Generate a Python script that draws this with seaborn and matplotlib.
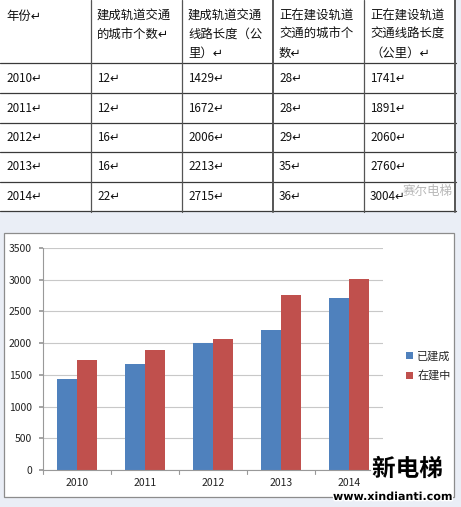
import matplotlib
matplotlib.use("Agg")
import matplotlib.pyplot as plt
import seaborn as sns
import pandas as pd
from matplotlib.lines import Line2D
from matplotlib.patches import Rectangle
import matplotlib.patheffects as pe

years = ["2010", "2011", "2012", "2013", "2014"]
built_cities = [12, 12, 16, 16, 22]
built_km = [1429, 1672, 2006, 2213, 2715]
building_cities = [28, 28, 29, 35, 36]
building_km = [1741, 1891, 2060, 2760, 3004]
headers = ["年份", "建成轨道交通\n的城市个数", "建成轨道交通\n线路长度（公\n里）",
           "正在建设轨道\n交通的城市个\n数", "正在建设轨道\n交通线路长度\n（公里）"]
series_names = ["已建成", "在建中"]
yticks = [0, 500, 1000, 1500, 2000, 2500, 3000, 3500]

sns.set_theme(style="white")
plt.rcParams["font.family"] = ["Noto Sans CJK SC", "DejaVu Sans"]

W, H = 461, 507
fig = plt.figure(figsize=(W / 100, H / 100), dpi=100, facecolor="#eaeef6")

def fx(x):
    return x / W

def fy(y):
    return 1 - y / H

# ---- table ----
fig.add_artist(Rectangle((fx(0), fy(212)), fx(456), 212 / H, transform=fig.transFigure,
                         facecolor="white", edgecolor="none", zorder=0))
col_x = [0, 91, 182, 273, 364, 455]
row_y = [0, 63, 93, 123, 152, 182, 211]
for y in row_y[1:]:
    fig.add_artist(Line2D([fx(0), fx(456)], [fy(y), fy(y)], transform=fig.transFigure,
                          color="#3a3a3a", lw=0.9))
for i, x in enumerate(col_x[1:]):
    fig.add_artist(Line2D([fx(x), fx(x)], [fy(0), fy(212)], transform=fig.transFigure,
                          color="#555555", lw=1.4 if i in (2, 4) else 0.9))

hfs = 8.9
tfs = 8.4
for j, h in enumerate(headers):
    lines = h.split("\n")
    for k, ln in enumerate(lines):
        txt = ln + ("↵" if k == len(lines) - 1 else "")
        fig.text(fx(col_x[j] + 6), fy(16 + k * 18.5), txt, fontsize=hfs, color="#111111",
                 va="center", ha="left")

rows = list(zip(years, built_cities, built_km, building_cities, building_km))
for r, row in enumerate(rows):
    yc = (row_y[r + 1] + row_y[r + 2]) / 2
    for j, v in enumerate(row):
        fig.text(fx(col_x[j] + 6), fy(yc), f"{v}↵", fontsize=tfs, color="#111111",
                 va="center", ha="left")

fig.text(fx(403), fy(191), "赛尔电梯", fontsize=9, color="#b8b8b8", va="center", ha="left")

# ---- chart box ----
fig.add_artist(Rectangle((fx(4), fy(497)), fx(450), (497 - 233) / H, transform=fig.transFigure,
                         facecolor="white", edgecolor="#8c8c8c", lw=0.9, zorder=0))

df = pd.DataFrame({
    "year": years * 2,
    "value": built_km + building_km,
    "series": [series_names[0]] * len(years) + [series_names[1]] * len(years),
})

ax = fig.add_axes([fx(43), fy(470), fx(383 - 43), (470 - 248) / H])
ax.set_facecolor("none")
sns.barplot(data=df, x="year", y="value", hue="series", ax=ax,
            palette=["#4F81BD", "#C0504D"], width=0.58, gap=0, legend=True,
            saturation=1, edgecolor="none")
ax.set_xlim(-0.5, 4.5)
ax.set_ylim(0, 3500)
ax.set_yticks(yticks)
ax.set_yticklabels([str(t) for t in yticks], fontsize=7.5, color="#222222")
ax.set_xticks(range(len(years)))
ax.set_xticklabels(years, fontsize=7.5, color="#222222")
ax.yaxis.grid(True, color="#c8c8c8", lw=0.8)
ax.set_axisbelow(True)
ax.set_xlabel("")
ax.set_ylabel("")
for s in ["top", "right"]:
    ax.spines[s].set_visible(False)
ax.spines["left"].set_color("#999999")
ax.spines["bottom"].set_color("#999999")
ax.spines["left"].set_linewidth(0.8)
ax.spines["bottom"].set_linewidth(0.8)
ax.tick_params(axis="x", length=0, pad=6)
ax.tick_params(axis="y", length=3, color="#999999", pad=5, left=True)
for xb in [i + 0.5 for i in range(-1, len(years))]:
    ax.plot([xb, xb], [0, -60], color="#999999", lw=0.8, clip_on=False)

handles, labels = ax.get_legend_handles_labels()
ax.get_legend().remove()
fig.legend(handles, labels, loc="center left", bbox_to_anchor=(fx(396), fy(366)),
           frameon=False, fontsize=8, handlelength=0.6, handleheight=0.6,
           handletextpad=0.4, labelspacing=0.8)

# watermark
fig.text(fx(372), fy(469), "新电梯", fontsize=17, fontweight="bold", color="black",
         va="center", ha="left",
         path_effects=[pe.withStroke(linewidth=3, foreground="white")])
fig.text(fx(452), fy(497), "www.xindianti.com", fontsize=8, fontweight="bold",
         color="black", va="center", ha="right", family="DejaVu Sans",
         path_effects=[pe.withStroke(linewidth=2, foreground="white")])

fig.savefig("out.png", dpi=100, facecolor=fig.get_facecolor())
